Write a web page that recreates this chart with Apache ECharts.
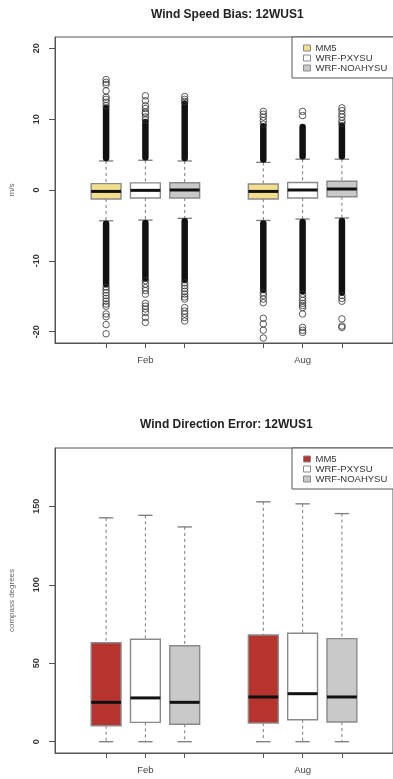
<!DOCTYPE html>
<html>
<head>
<meta charset="utf-8">
<script src="https://cdn.jsdelivr.net/npm/echarts@6/dist/echarts.min.js"></script>
<style>
  html, body { margin: 0; padding: 0; background: #fff; }
  #chart { width: 393px; height: 779px; }
</style>
</head>
<body>
<div id="chart"></div>
<script>
// months on the x axis, three models per month
const months = ['Feb', 'Aug'];
const models = ['MM5', 'WRF-PXYSU', 'WRF-NOAHYSU'];

// wind speed bias (m/s), boxes in order Feb MM5, Feb PX, Feb NOAH, Aug MM5, Aug PX, Aug NOAH
// [lower whisker, Q1, median, Q3, upper whisker]
const speedStats = [
  [-4.35, -1.27, -0.2, 0.9, 4.1],
  [-4.25, -1.13, -0.05, 1.0, 4.2],
  [-4.0, -1.13, 0.0, 1.03, 4.1],
  [-4.3, -1.27, -0.2, 0.85, 3.9],
  [-4.1, -1.13, 0.0, 1.05, 4.35],
  [-3.95, -0.95, 0.14, 1.23, 4.35]
];
// where the solid run of overlapping outliers ends (below / above)
const speedDenseLow = [-13.3, -12.5, -12.7, -14.1, -14.3, -14.5];
const speedDenseHigh = [11.6, 9.6, 12.2, 9.0, 8.9, 9.1];
// the separate outlier circles
const speedOutliers = [
  [11.9, 12.4, 12.8, 13.1, 14.0, 14.9, 15.2, 15.6, -13.7, -14.1, -14.5, -14.9, -15.3, -15.7, -16.1, -16.4, -17.5, -17.9, -19.0, -20.3],
  [9.9, 10.3, 10.8, 11.0, 11.5, 11.9, 12.6, 13.3, -12.8, -13.3, -13.8, -14.2, -14.7, -16.0, -16.4, -16.8, -17.3, -18.0, -18.7],
  [12.5, 12.8, 13.2, -13.1, -13.5, -13.9, -14.3, -14.7, -15.1, -15.4, -16.6, -17.1, -17.5, -18.0, -18.5],
  [9.3, 9.8, 10.3, 10.7, 11.1, -14.5, -14.9, -15.4, -15.9, -18.1, -18.9, -19.8, -20.9],
  [10.5, 11.1, -14.7, -15.2, -15.6, -16.0, -16.3, -16.6, -17.5, -19.4, -19.8, -20.1],
  [9.4, 9.8, 10.3, 10.7, 11.2, 11.6, -14.9, -15.3, -15.7, -18.2, -19.2, -19.4]
];

// wind direction error (compass degrees), same box order
const dirStats = [
  [0, 10.2, 25.1, 63.1, 142.7],
  [0, 12.3, 27.9, 65.3, 144.3],
  [0, 11.1, 25.1, 61.2, 136.9],
  [0, 11.9, 28.5, 68.0, 152.9],
  [0, 14.0, 30.6, 69.1, 151.6],
  [0, 12.6, 28.5, 65.7, 145.4]
];

const speedTicks = [-20, -10, 0, 10, 20];
const dirTicks = [0, 50, 100, 150];

const speedColors = ['#f2df8c', '#ffffff', '#c9c9c9'];
const dirColors = ['#b6332e', '#ffffff', '#c9c9c9'];

const chart = echarts.init(document.getElementById('chart'));

// box i sits at x = 1,2,3 (Feb) and 5,6,7 (Aug)
function boxX(i) {
  return Math.floor(i / 3) * 4 + (i % 3) + 1;
}

function renderBox(params, api) {
  const x = api.value(0);
  const lo = api.coord([x, api.value(1)]);
  const q1 = api.coord([x, api.value(2)]);
  const med = api.coord([x, api.value(3)]);
  const q3 = api.coord([x, api.value(4)]);
  const hi = api.coord([x, api.value(5)]);
  const cx = lo[0];
  const halfW = api.size([1, 0])[0] * 0.38;
  const capW = halfW * 0.48;
  const whisker = { stroke: '#7a7a7a', lineWidth: 1, lineDash: [3, 3] };
  const cap = { stroke: '#7a7a7a', lineWidth: 1.3 };
  return {
    type: 'group',
    children: [
      { type: 'line', shape: { x1: cx, y1: hi[1], x2: cx, y2: q3[1] }, style: whisker },
      { type: 'line', shape: { x1: cx, y1: q1[1], x2: cx, y2: lo[1] }, style: whisker },
      { type: 'line', shape: { x1: cx - capW, y1: hi[1], x2: cx + capW, y2: hi[1] }, style: cap },
      { type: 'line', shape: { x1: cx - capW, y1: lo[1], x2: cx + capW, y2: lo[1] }, style: cap },
      {
        type: 'rect',
        shape: { x: cx - halfW, y: q3[1], width: halfW * 2, height: q1[1] - q3[1] },
        style: { fill: api.visual('color'), stroke: '#8a8a8a', lineWidth: 1.4 }
      },
      { type: 'line', shape: { x1: cx - halfW, y1: med[1], x2: cx + halfW, y2: med[1] }, style: { stroke: '#111', lineWidth: 3 } }
    ]
  };
}

function renderDense(params, api) {
  const a = api.coord([api.value(0), api.value(1)]);
  const b = api.coord([api.value(0), api.value(2)]);
  const dir = b[1] > a[1] ? 1 : -1;
  return {
    type: 'line',
    shape: { x1: a[0], y1: a[1] + dir * 3, x2: b[0], y2: b[1] },
    style: { stroke: '#111', lineWidth: 6.5, lineCap: 'round' }
  };
}

const series = [];
[speedStats, dirStats].forEach(function (stats, g) {
  const colors = g === 0 ? speedColors : dirColors;
  models.forEach(function (m, k) {
    const data = [];
    stats.forEach(function (s, i) {
      if (i % 3 === k) data.push([boxX(i)].concat(s));
    });
    series.push({
      name: m,
      type: 'custom',
      xAxisIndex: g,
      yAxisIndex: g,
      itemStyle: { color: colors[k] },
      renderItem: renderBox,
      data: data,
      z: 3
    });
  });
});

const denseData = [];
speedStats.forEach(function (s, i) {
  denseData.push([boxX(i), s[0], speedDenseLow[i]]);
  denseData.push([boxX(i), s[4], speedDenseHigh[i]]);
});
series.push({
  type: 'custom',
  xAxisIndex: 0,
  yAxisIndex: 0,
  renderItem: renderDense,
  data: denseData,
  silent: true,
  z: 4
});

const outlierData = [];
speedOutliers.forEach(function (list, i) {
  list.forEach(function (v) { outlierData.push([boxX(i), v]); });
});
series.push({
  type: 'scatter',
  xAxisIndex: 0,
  yAxisIndex: 0,
  symbol: 'circle',
  symbolSize: 6.5,
  itemStyle: { color: 'rgba(0,0,0,0)', borderColor: '#333', borderWidth: 1 },
  data: outlierData,
  silent: true,
  z: 5
});

function xAxisFor(g) {
  return {
    type: 'value',
    gridIndex: g,
    position: 'bottom',
    min: -0.3,
    max: 8.3,
    axisLine: { show: true, onZero: false, lineStyle: { color: '#555', width: 1 } },
    splitLine: { show: false },
    axisTick: { show: true, inside: false, length: 5, customValues: [1, 2, 3, 5, 6, 7], lineStyle: { color: '#555' } },
    axisLabel: {
      customValues: [2, 6],
      margin: 12,
      fontSize: 9.5,
      color: '#444',
      fontFamily: 'Liberation Sans',
      formatter: function (v) { return months[Math.round((v - 2) / 4)]; }
    }
  };
}

function yAxisFor(g, min, max, ticks, name) {
  return {
    type: 'value',
    gridIndex: g,
    position: 'left',
    min: min,
    max: max,
    name: name,
    nameLocation: 'middle',
    nameGap: 39,
    nameTextStyle: { fontSize: 8, color: '#666', fontFamily: 'Liberation Sans' },
    axisLine: { show: true, onZero: false, lineStyle: { color: '#555', width: 1 } },
    splitLine: { show: false },
    axisTick: { show: true, inside: false, length: 6, customValues: ticks, lineStyle: { color: '#555' } },
    axisLabel: {
      customValues: ticks,
      rotate: 90,
      margin: 14,
      fontSize: 9,
      fontWeight: 'bold',
      color: '#333',
      fontFamily: 'Liberation Sans'
    }
  };
}

function legendFor(g, top, colors) {
  return {
    orient: 'vertical',
    left: 292,
    top: top,
    icon: 'rect',
    itemWidth: 7,
    itemHeight: 6,
    itemGap: 0,
    selectedMode: false,
    padding: [6, 40, 5, 11],
    borderColor: '#555',
    borderWidth: 1,
    backgroundColor: '#fff',
    textStyle: { fontSize: 9.5, color: '#333', fontFamily: 'Liberation Sans' },
    data: models.map(function (m, k) {
      return { name: m, itemStyle: { color: colors[k], borderColor: '#888', borderWidth: 1 } };
    })
  };
}

const option = {
  animation: false,
  backgroundColor: '#fff',
  title: [
    {
      text: 'Wind Speed Bias: 12WUS1',
      left: 146,
      top: 4,
      textStyle: { fontSize: 12, fontWeight: 'bold', color: '#222', fontFamily: 'Liberation Sans' }
    },
    {
      text: 'Wind Direction Error: 12WUS1',
      left: 135,
      top: 414,
      textStyle: { fontSize: 12, fontWeight: 'bold', color: '#222', fontFamily: 'Liberation Sans' }
    }
  ],
  legend: [legendFor(0, 37, speedColors), legendFor(1, 448, dirColors)],
  grid: [
    { left: 54, top: 37, width: 340, height: 306, show: true, borderColor: '#555', borderWidth: 1 },
    { left: 54, top: 448, width: 340, height: 305, show: true, borderColor: '#555', borderWidth: 1 }
  ],
  xAxis: [xAxisFor(0), xAxisFor(1)],
  yAxis: [
    yAxisFor(0, -21.6, 21.6, speedTicks, 'm/s'),
    yAxisFor(1, -7.2, 187.2, dirTicks, 'compass degrees')
  ],
  series: series
};

chart.setOption(option);
</script>
</body>
</html>
